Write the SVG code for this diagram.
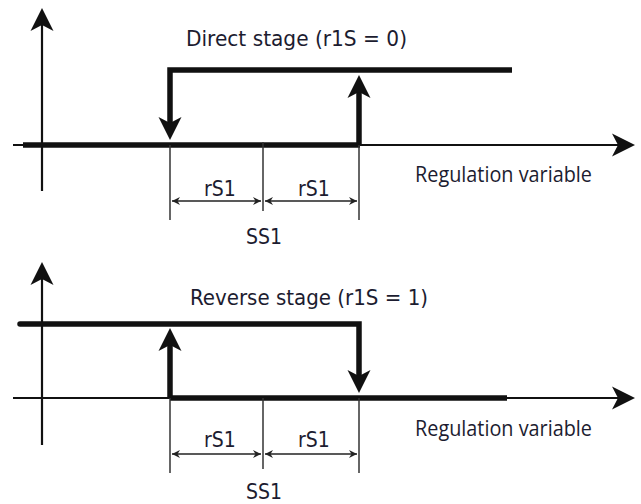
<svg xmlns="http://www.w3.org/2000/svg" width="641" height="504" viewBox="0 0 641 504">
<style>
.thin{stroke:#111;stroke-width:2.2;fill:none}
.thick{stroke:#111;stroke-width:5.5;fill:none;stroke-linejoin:miter}
.tick{stroke:#333;stroke-width:1.5;fill:none}
.dim{stroke:#222;stroke-width:1.4;fill:none;marker-start:url(#dimS);marker-end:url(#dimE)}
.ttl{font-family:"DejaVu Sans Condensed","DejaVu Sans",Verdana,sans-serif;font-size:22px;fill:#1c1c30}
.lbl{font-family:"DejaVu Sans Condensed","DejaVu Sans",Verdana,sans-serif;font-size:21px;fill:#1c1c30;text-anchor:middle}
.reg{font-family:"Open Sans","Noto Sans",sans-serif;font-size:21px;fill:#1c1c30}
</style>
<defs>
<marker id="big" markerUnits="userSpaceOnUse" markerWidth="24" markerHeight="24" viewBox="0 -12 24 24" refX="6" refY="0" orient="auto">
<path d="M23,0 L0,-11.5 L6,0 L0,11.5 Z" fill="#111"/>
</marker>
<marker id="dimE" markerUnits="userSpaceOnUse" markerWidth="10" markerHeight="10" viewBox="0 -5 10 10" refX="8" refY="0" orient="auto">
<path d="M8,0 L0,-4 L2.5,0 L0,4 Z" fill="#222"/>
</marker>
<marker id="dimS" markerUnits="userSpaceOnUse" markerWidth="10" markerHeight="10" viewBox="0 -5 10 10" refX="0" refY="0" orient="auto">
<path d="M0,0 L8,-4 L5.5,0 L8,4 Z" fill="#222"/>
</marker>
</defs>

<g id="direct-stage">
<g id="direct-axes">
<line class="thin" x1="42" y1="191" x2="42" y2="25" marker-end="url(#big)"/>
<line class="thin" x1="13" y1="145" x2="618" y2="145" marker-end="url(#big)"/>
</g>
<g id="direct-curve">
<line class="thick" x1="23" y1="145" x2="360" y2="145"/>
<path class="thick" d="M512,70 H170 V123" marker-end="url(#big)"/>
<line class="thick" x1="359" y1="145" x2="359" y2="92" marker-end="url(#big)"/>
</g>
<g id="direct-dims">
<line class="tick" x1="170" y1="145" x2="170" y2="220"/>
<line class="tick" x1="263" y1="142" x2="263" y2="211"/>
<line class="tick" x1="359" y1="145" x2="359" y2="220"/>
<line class="dim" x1="172" y1="201" x2="261" y2="201"/>
<line class="dim" x1="265" y1="201" x2="357" y2="201"/>
<text class="lbl" x="220" y="196">rS1</text>
<text class="lbl" x="314" y="196">rS1</text>
<text class="lbl" x="264" y="244">SS1</text>
</g>
<text class="ttl" x="186" y="46" textLength="221" lengthAdjust="spacingAndGlyphs">Direct stage (r1S = 0)</text>
<text class="reg" x="415" y="182" textLength="177" lengthAdjust="spacingAndGlyphs">Regulation variable</text>
</g>

<g id="reverse-stage">
<g id="reverse-axes">
<line class="thin" x1="42" y1="445" x2="42" y2="279" marker-end="url(#big)"/>
<line class="thin" x1="13" y1="398" x2="618" y2="398" marker-end="url(#big)"/>
</g>
<g id="reverse-curve">
<line class="thick" x1="170" y1="398" x2="507" y2="398"/>
<path class="thick" d="M20,324 H359 V376" marker-end="url(#big)" stroke-linecap="round"/>
<line class="thick" x1="170" y1="398" x2="170" y2="345" marker-end="url(#big)"/>
</g>
<g id="reverse-dims">
<line class="tick" x1="170" y1="398" x2="170" y2="473"/>
<line class="tick" x1="263" y1="398" x2="263" y2="469"/>
<line class="tick" x1="359" y1="398" x2="359" y2="473"/>
<line class="dim" x1="172" y1="454" x2="261" y2="454"/>
<line class="dim" x1="265" y1="454" x2="357" y2="454"/>
<text class="lbl" x="220" y="447">rS1</text>
<text class="lbl" x="314" y="447">rS1</text>
<text class="lbl" x="264" y="499">SS1</text>
</g>
<text class="ttl" x="190" y="305" textLength="238" lengthAdjust="spacingAndGlyphs">Reverse stage (r1S = 1)</text>
<text class="reg" x="415" y="436" textLength="177" lengthAdjust="spacingAndGlyphs">Regulation variable</text>
</g>
</svg>
